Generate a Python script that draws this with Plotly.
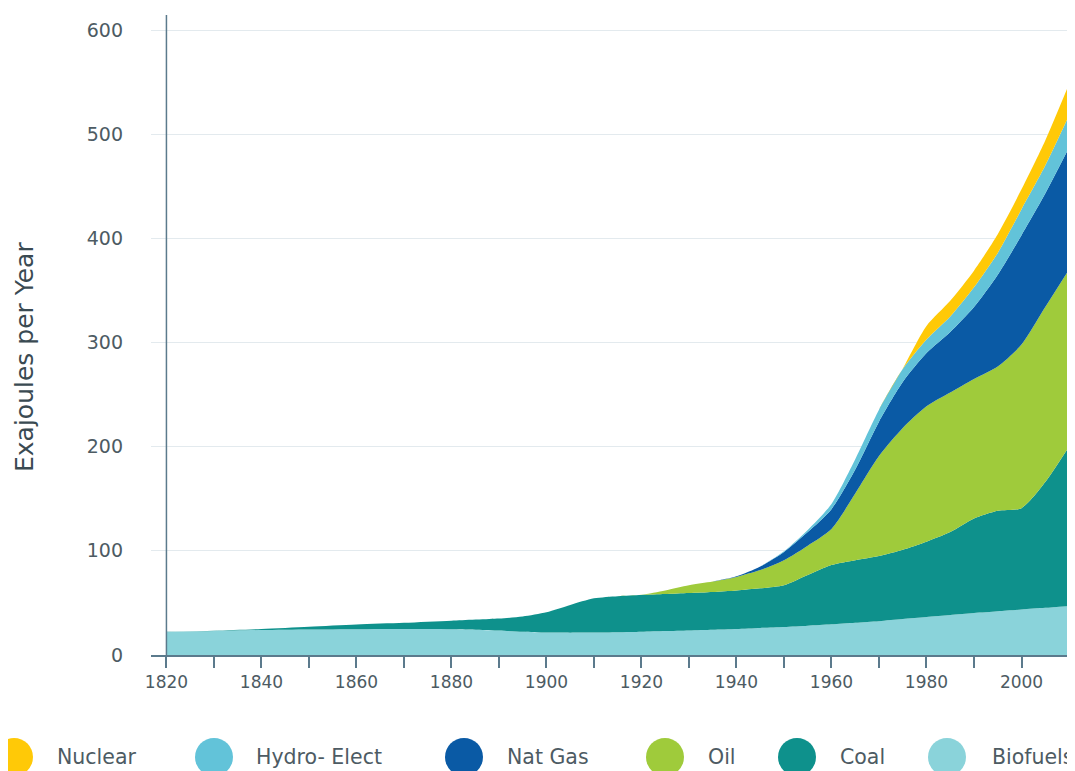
import plotly.graph_objects as go

years = [1820, 1830, 1840, 1850, 1860, 1870, 1880, 1890, 1895, 1900, 1905, 1910,
         1915, 1920, 1925, 1930, 1935, 1940, 1945, 1950, 1955, 1960, 1965, 1970,
         1975, 1980, 1985, 1990, 1995, 2000, 2005, 2010]

biofuels = [22.2, 23, 24, 24.5, 24.8, 25, 24.8, 23.5, 22.3, 21.5, 21.4, 21.5,
            21.8, 22.3, 23, 23.6, 24.3, 25, 26, 27, 28.2, 29.5, 31, 32.5,
            34.5, 36.5, 38.5, 40.3, 42, 43.7, 45.3, 47]
coal = [0.2, 0.4, 1.0, 2.7, 4.6, 6.0, 8.2, 11.5, 14.7, 19.5, 26.6, 32.9,
        34.7, 35.3, 35.5, 35.9, 36.2, 37, 38, 40, 48.6, 56.9, 60, 62.5,
        66.5, 72.3, 79.5, 90.7, 96.5, 97.3, 120.7, 153]
oil = [0, 0, 0, 0, 0, 0, 0, 0, 0, 0, 0, 0,
       0, 0.3, 3.5, 7.5, 10, 13, 17.5, 24, 28.2, 34.6, 64, 96,
       117, 130, 134, 134, 138.5, 157, 168, 170]
nat_gas = [0, 0, 0, 0, 0, 0, 0, 0, 0, 0, 0, 0,
           0, 0, 0, 0, 0, 0.5, 3.5, 8, 13, 19, 23, 33,
           44, 51, 58, 69, 88, 105, 109, 117]
hydro = [0, 0, 0, 0, 0, 0, 0, 0, 0, 0, 0, 0,
         0, 0, 0, 0, 0, 0, 0, 0.5, 2, 5, 10, 11.5,
         12.5, 13, 15, 19, 21, 25, 27, 31]
nuclear = [0, 0, 0, 0, 0, 0, 0, 0, 0, 0, 0, 0,
           0, 0, 0, 0, 0, 0, 0, 0, 0, 0, 0, 0,
           0.3, 13, 15, 16, 18, 19, 24, 30]

# bottom to top in the stack
series = [
    ("Biofuels", biofuels, "#8AD3DA"),
    ("Coal", coal, "#0E918C"),
    ("Oil", oil, "#9FCB3B"),
    ("Nat Gas", nat_gas, "#0A5AA5"),
    ("Hydro- Elect", hydro, "#62C3D9"),
    ("Nuclear", nuclear, "#FFC907"),
]
legend_order = ["Nuclear", "Hydro- Elect", "Nat Gas", "Oil", "Coal", "Biofuels"]

# page body has an 8px margin, so the figure is a bit smaller than the window
OFF = 8
W, H = 1075 - OFF, 771 - OFF
L, R, T, B = 151 - OFF, 6, 15 - OFF, 116
axis_col = "#5b7a8c"
text_col = "#4d5b63"


def px_x(px):
    return (px - OFF - L) / (W - L - R)


def px_y(py):
    return (H - B - (py - OFF)) / (H - T - B)


fig = go.Figure()
for name, vals, col in series:
    fig.add_trace(go.Scatter(
        x=years, y=vals, name=name, stackgroup="one", mode="lines",
        line=dict(width=0, shape="spline", smoothing=0.7, color=col),
        fillcolor=col, showlegend=False,
    ))

colors = {n: c for n, _, c in series}
circle_x = [14, 214, 464, 665, 797, 947]
label_x = [55, 254, 505, 706, 838, 990]
shapes = [dict(type="line", xref="x", yref="paper", x0=1820, x1=1820, y0=0, y1=1,
               line=dict(color=axis_col, width=1.5), layer="above")]
annotations = [dict(text="Exajoules per Year", textangle=-90, xref="paper", yref="paper",
                    x=px_x(24), y=px_y(357), xanchor="center", yanchor="middle",
                    showarrow=False,
                    font=dict(family="DejaVu Sans", size=25, color="#3a4a52"))]
for name, cx, lx in zip(legend_order, circle_x, label_x):
    shapes.append(dict(type="circle", xref="paper", yref="paper",
                       xsizemode="pixel", ysizemode="pixel",
                       xanchor=px_x(cx), yanchor=px_y(757),
                       x0=-19, x1=19, y0=-19, y1=19,
                       fillcolor=colors[name], line=dict(width=0)))
    annotations.append(dict(text=name, xref="paper", yref="paper", x=px_x(lx), y=px_y(757),
                            xanchor="left", yanchor="middle", showarrow=False,
                            font=dict(family="DejaVu Sans", size=20.5, color=text_col)))

fig.update_layout(
    width=W, height=H,
    margin=dict(l=L, r=R, t=T, b=B),
    paper_bgcolor="white", plot_bgcolor="white",
    font=dict(family="DejaVu Sans", size=17, color=text_col),
    xaxis=dict(range=[1816.75, 2010], tickmode="linear", tick0=1820, dtick=20,
               ticks="outside", ticklen=11, tickcolor=axis_col, tickwidth=1.5,
               minor=dict(dtick=10, tick0=1820, ticks="outside", ticklen=11,
                          tickcolor=axis_col, tickwidth=1.5),
               tickfont=dict(size=17),
               showline=True, linecolor=axis_col, linewidth=1.5,
               showgrid=False, zeroline=False),
    yaxis=dict(range=[0, 614.4], tickmode="linear", tick0=0, dtick=100,
               showgrid=True, gridcolor="#e3eaee", gridwidth=1,
               tickfont=dict(size=19),
               zeroline=False, showline=False, ticks="", ticklabelstandoff=27),
    shapes=shapes,
    annotations=annotations,
)

# no scrollbars, the figure fills the window exactly
fig.write_html("out.html", post_script="document.body.style.overflow='hidden';")
